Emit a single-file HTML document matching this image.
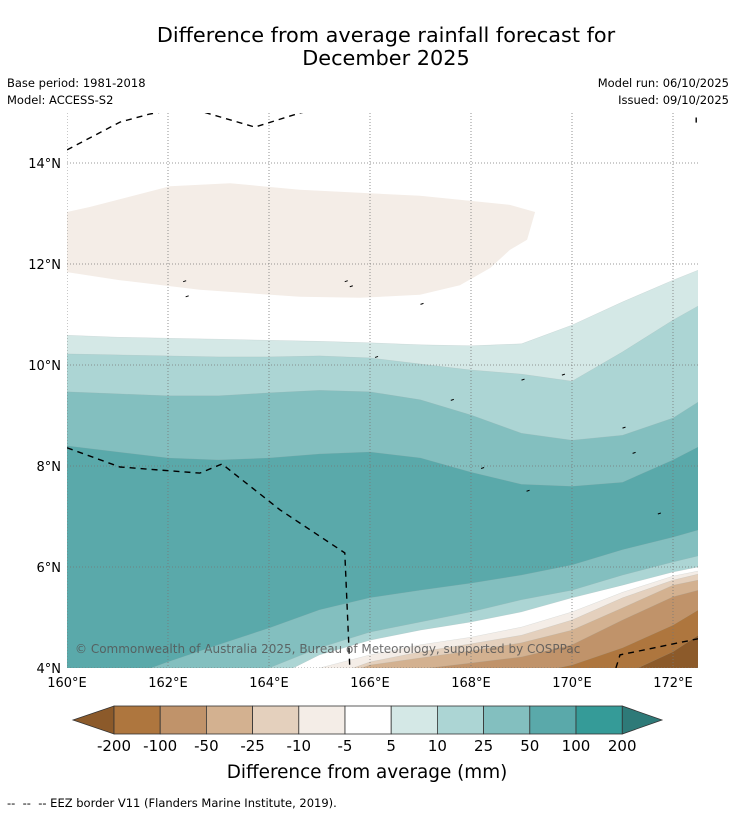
<!DOCTYPE html>
<html><head><meta charset="utf-8">
<style>
body{margin:0;background:#fff;width:736px;height:816px;overflow:hidden;font-family:"DejaVu Sans",sans-serif;}
svg{position:absolute;left:0;top:0}
</style></head>
<body>
<svg id="c" width="736" height="816" font-family="DejaVu Sans, sans-serif">
<text x="386" y="42" font-size="20.8" text-anchor="middle">Difference from average rainfall forecast for</text>
<text x="386" y="65" font-size="20.8" text-anchor="middle">December 2025</text>
<text x="7" y="87" font-size="11.5">Base period: 1981-2018</text>
<text x="7" y="104" font-size="11.5">Model: ACCESS-S2</text>
<text x="729" y="87" font-size="11.5" text-anchor="end">Model run: 06/10/2025</text>
<text x="729" y="104" font-size="11.5" text-anchor="end">Issued: 09/10/2025</text>
<defs><clipPath id="mc"><rect x="67" y="113" width="631" height="555"/></clipPath></defs>
<g id="map" clip-path="url(#mc)"></g>
<g id="axes"></g>
<g id="cbar"></g>
<text x="367" y="778" font-size="18.4" text-anchor="middle">Difference from average (mm)</text>
<text x="7" y="807" font-size="11.5">-- &#160;-- &#160;-- EEZ border V11 (Flanders Marine Institute, 2019).</text>
</svg>
<script>
const lons=[160,161,162,163,164,165,166,167,168,169,170,171,172,172.5];
const bandColors=["#d4e8e6","#acd5d4","#83bfbf","#5aa9aa","#83bfbf","#acd5d4","#ffffff","#f4ede7","#e4d0bd","#d3b190","#c0936a","#ae763e","#8c5a2a"];
const cA=[10.59,10.55,10.53,10.51,10.49,10.47,10.44,10.40,10.38,10.42,10.79,11.25,11.68,11.88];
const cB=[10.22,10.20,10.18,10.16,10.16,10.18,10.14,10.02,9.90,9.82,9.68,10.26,10.89,11.17];
const cC=[9.47,9.43,9.39,9.39,9.45,9.50,9.47,9.31,9.01,8.65,8.51,8.61,8.95,9.27];
const cD=[8.40,8.28,8.16,8.12,8.16,8.24,8.28,8.16,7.88,7.64,7.60,7.68,8.12,8.38];
const cE=[3.56,3.76,4.12,4.46,4.79,5.15,5.39,5.54,5.68,5.84,6.04,6.34,6.59,6.73];
const cF=[2.97,3.17,3.37,3.66,4.0,4.40,4.71,4.91,5.11,5.35,5.54,5.84,6.10,6.22];
const cG=[2.77,2.97,3.17,3.47,3.76,4.26,4.55,4.75,4.91,5.11,5.39,5.64,5.90,6.0];
const cH=[2.57,2.77,2.97,3.17,3.37,4.0,4.26,4.46,4.61,4.81,5.11,5.50,5.82,5.92];
const cI=[2.38,2.57,2.77,2.97,3.17,3.76,4.12,4.32,4.48,4.65,4.95,5.39,5.74,5.86];
const cJ=[2.18,2.38,2.57,2.77,2.97,3.70,4.06,4.20,4.34,4.50,4.75,5.19,5.64,5.74];
const cK=[1.78,1.98,2.18,2.38,2.57,3.2,3.85,3.98,4.10,4.22,4.46,4.95,5.41,5.54];
const cL=[1.5,1.6,1.8,2.0,2.2,2.4,2.6,2.9,3.5,3.85,4.06,4.40,4.85,5.15];
const cM=[1.0,1.1,1.2,1.3,1.4,1.5,1.6,1.8,2.2,2.8,3.3,3.86,4.32,4.65];
const contours=[cA,cB,cC,cD,cE,cF,cG,cH,cI,cJ,cK,cL,cM];
const blobLon=[160,160.46,162.04,163.23,164.61,166.99,168.77,169.27,169.11,168.77,168.38,167.78,166.99,165.80,164.61,162.63,161.05,160];
const blobLat=[13.03,13.13,13.54,13.60,13.47,13.35,13.17,13.03,12.48,12.28,11.92,11.58,11.39,11.33,11.35,11.49,11.68,11.84];
const eezSegs=[
 {lon:[160,161.05,161.64,162.1],lat:[14.26,14.81,14.97,15.05]},
 {lon:[162.73,163.72,164.61,164.9],lat:[15.0,14.71,14.99,15.05]},
 {lon:[160,161.05,162.63,163.07,164.22,165.50,165.60],lat:[8.36,7.98,7.86,8.04,7.13,6.28,4.0]},
 {lon:[170.87,170.95,172.55],lat:[4.0,4.26,4.59]},
 {lon:[172.46,172.46],lat:[14.9,14.8]}];
const islandLon=[162.3,162.35,165.5,165.6,166.1,167.0,169.0,169.8,171.0,171.2,171.7,169.1,168.2,167.6];
const islandLat=[11.65,11.35,11.65,11.55,10.15,11.2,9.7,9.8,8.75,8.25,7.05,7.5,7.95,9.3];
const lonTicks=[160,162,164,166,168,170,172];
const latTicks=[4,6,8,10,12,14];
const cbLabels=["-200","-100","-50","-25","-10","-5","5","10","25","50","100","200"];
const cbColors=["#ae763e","#c0936a","#d3b190","#e4d0bd","#f4ede7","#ffffff","#d4e8e6","#acd5d4","#83bfbf","#5aa9aa","#359b98"];

const NS="http://www.w3.org/2000/svg";
const px=50.5;
const X=lon=>67+(lon-160)*px;
const Y=lat=>668-(lat-4)*px;
function mk(tag,attrs,parent){const e=document.createElementNS(NS,tag);for(const k in attrs)e.setAttribute(k,attrs[k]);parent.appendChild(e);return e;}
const map=document.getElementById('map');
mk('rect',{x:67,y:113,width:631,height:555,fill:'#ffffff'},map);
contours.forEach((c,i)=>{
  let d='M'+lons.map((l,j)=>X(l).toFixed(1)+','+Y(c[j]).toFixed(1)).join(' L')+' L'+X(172.6)+','+Y(c[c.length-1]).toFixed(1)+' L'+X(172.6)+',700 L60,700 L60,'+Y(c[0]).toFixed(1)+' Z';
  const p=mk('path',{d:d,fill:bandColors[i],stroke:'#9aa',"stroke-width":0.4,"stroke-opacity":0.4},map);
  
  
});
const bp=mk('path',{d:'M'+blobLon.map((l,j)=>X(l).toFixed(1)+','+Y(blobLat[j]).toFixed(1)).join(' L')+' Z',fill:'#f4ede7'},map);


lonTicks.forEach(l=>{const g=mk('line',{x1:X(l),x2:X(l),y1:113,y2:668,stroke:'#777',"stroke-width":0.8,"stroke-dasharray":'1,2'},map);

});
latTicks.forEach(l=>{const g=mk('line',{x1:67,x2:698,y1:Y(l),y2:Y(l),stroke:'#777',"stroke-width":0.8,"stroke-dasharray":'1,2'},map);

});
eezSegs.forEach(s=>{const p=mk('path',{d:'M'+s.lon.map((l,j)=>X(l).toFixed(1)+','+Y(s.lat[j]).toFixed(1)).join(' L'),fill:'none',stroke:'#000',"stroke-width":1.4,"stroke-dasharray":'6,5'},map);

});
islandLon.forEach((l,i)=>{const p=mk('line',{x1:X(l),y1:Y(islandLat[i]),x2:X(l)+3,y2:Y(islandLat[i])-1,stroke:'#000',"stroke-width":1},map);

});
const cp=mk('text',{x:75,y:653,"font-size":12,fill:'#555',"fill-opacity":0.85},map);
cp.textContent='© Commonwealth of Australia 2025, Bureau of Meteorology, supported by COSPPac';


const axes=document.getElementById('axes');
lonTicks.forEach(l=>{const t=mk('text',{x:X(l),y:687,"font-size":13,"text-anchor":'middle'},axes);t.textContent=l+'°E';

});
latTicks.forEach(l=>{const t=mk('text',{x:61,y:Y(l)+5,"font-size":13,"text-anchor":'end'},axes);t.textContent=l+'°N';

});
const cb=document.getElementById('cbar');
const cx0=114,cw=46.2,cy=706,ch=28;
mk('polygon',{points:`${cx0},${cy} ${cx0},${cy+ch} 73,${cy+ch/2}`,fill:'#8c5a2a',stroke:'#333',"stroke-width":0.8},cb);
const ex=cx0+cw*cbColors.length;
mk('polygon',{points:`${ex},${cy} ${ex},${cy+ch} 662,${cy+ch/2}`,fill:'#2e7a78',stroke:'#333',"stroke-width":0.8},cb);
cbColors.forEach((c,i)=>{const r=mk('rect',{x:cx0+i*cw,y:cy,width:cw,height:ch,fill:c,stroke:'#333',"stroke-width":0.8},cb);

});
cbLabels.forEach((s,i)=>{const t=mk('text',{x:cx0+i*cw,y:751,"font-size":15,"text-anchor":'middle'},cb);t.textContent=s;

});
</script>
</body></html>
